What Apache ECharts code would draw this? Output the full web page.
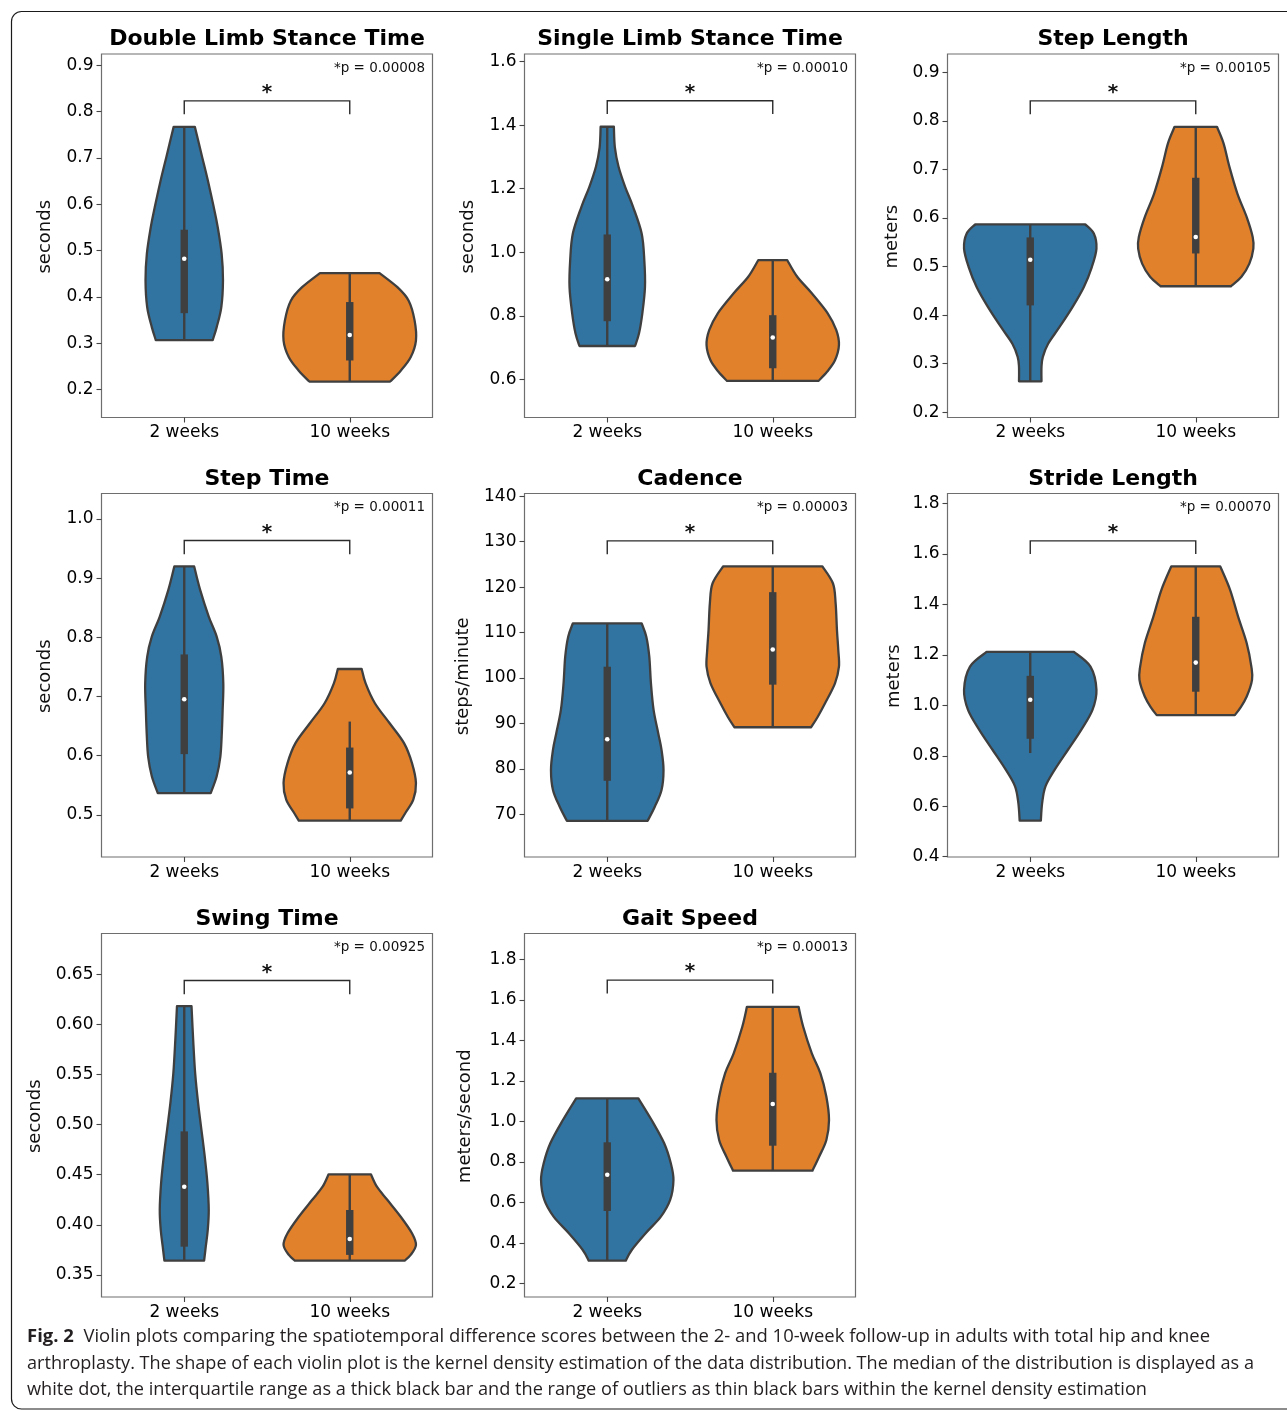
<!DOCTYPE html>
<html><head><meta charset="utf-8">
<script src="https://cdn.jsdelivr.net/npm/echarts@6/dist/echarts.min.js"></script>
<style>html,body{margin:0;padding:0;background:#fff}#c{width:1287px;height:1410px}</style>
</head><body><div id="c"></div><script>
// ---------------- DATA ----------------
const categories = ['2 weeks', '10 weeks'];
const titles = ['Double Limb Stance Time', 'Single Limb Stance Time', 'Step Length',
  'Step Time', 'Cadence', 'Stride Length', 'Swing Time', 'Gait Speed'];
const yNames = ['seconds', 'seconds', 'meters', 'seconds', 'steps/minute', 'meters', 'seconds', 'meters/second'];
const pTexts = ['*p = 0.00008', '*p = 0.00010', '*p = 0.00105', '*p = 0.00011',
  '*p = 0.00003', '*p = 0.00070', '*p = 0.00925', '*p = 0.00013'];
const yMin = [0.14, 0.48, 0.189, 0.4286, 60.64, 0.399, 0.328, 0.134];
const yMax = [0.924, 1.624, 0.938, 1.043, 140.6, 1.8396, 0.6906, 1.928];
const yTicks = [
  ['0.2', '0.3', '0.4', '0.5', '0.6', '0.7', '0.8', '0.9'],
  ['0.6', '0.8', '1.0', '1.2', '1.4', '1.6'],
  ['0.2', '0.3', '0.4', '0.5', '0.6', '0.7', '0.8', '0.9'],
  ['0.5', '0.6', '0.7', '0.8', '0.9', '1.0'],
  ['70', '80', '90', '100', '110', '120', '130', '140'],
  ['0.4', '0.6', '0.8', '1.0', '1.2', '1.4', '1.6', '1.8'],
  ['0.35', '0.40', '0.45', '0.50', '0.55', '0.60', '0.65'],
  ['0.2', '0.4', '0.6', '0.8', '1.0', '1.2', '1.4', '1.6', '1.8']
];
// violin outlines: [value, relative density half-width (1 = widest violin)], top to bottom
const violin2w = [
  [[0.767,0.16],[0.702,0.27],[0.652,0.355],[0.594,0.445],[0.551,0.505],[0.493,0.565],[0.436,0.585],[0.378,0.56],[0.335,0.49],[0.307,0.43]],
  [[1.395,0.10],[1.33,0.115],[1.27,0.17],[1.206,0.27],[1.143,0.39],[1.059,0.52],[0.975,0.56],[0.891,0.57],[0.808,0.53],[0.745,0.48],[0.705,0.42]],
  [[0.587,0.83],[0.568,0.96],[0.537,1.00],[0.499,0.93],[0.458,0.81],[0.417,0.64],[0.375,0.44],[0.341,0.27],[0.314,0.19],[0.293,0.17],[0.2635,0.17]],
  [[0.9197,0.15],[0.880,0.24],[0.835,0.37],[0.801,0.49],[0.767,0.56],[0.722,0.59],[0.677,0.58],[0.632,0.565],[0.598,0.545],[0.565,0.49],[0.5367,0.40]],
  [[112.03,0.52],[109.09,0.59],[104.7,0.635],[98.85,0.66],[92.99,0.70],[87.87,0.77],[84.2,0.82],[79.8,0.85],[75.4,0.82],[71.75,0.72],[68.6,0.61]],
  [[1.2118,0.66],[1.1537,0.91],[1.0615,1.00],[0.9823,0.94],[0.903,0.77],[0.824,0.57],[0.745,0.37],[0.679,0.23],[0.6133,0.18],[0.5433,0.16]],
  [[0.6181,0.11],[0.5842,0.135],[0.551,0.165],[0.5211,0.21],[0.4945,0.26],[0.4679,0.31],[0.4414,0.35],[0.4148,0.37],[0.3948,0.355],[0.3782,0.325],[0.3643,0.30]],
  [[1.1144,0.47],[1.0074,0.67],[0.8925,0.86],[0.794,0.96],[0.7115,1.00],[0.6128,0.95],[0.5305,0.81],[0.4486,0.58],[0.3662,0.37],[0.3135,0.28]]
];
const violin10w = [
  [[0.4515,0.45],[0.421,0.72],[0.392,0.89],[0.349,0.98],[0.306,1.00],[0.270,0.92],[0.241,0.77],[0.2175,0.61]],
  [[0.975,0.22],[0.923,0.37],[0.871,0.59],[0.808,0.83],[0.755,0.96],[0.708,1.00],[0.660,0.94],[0.624,0.82],[0.595,0.69]],
  [[0.788,0.32],[0.754,0.42],[0.705,0.51],[0.650,0.63],[0.602,0.77],[0.561,0.86],[0.537,0.87],[0.506,0.81],[0.479,0.69],[0.4594,0.53]],
  [[0.7464,0.18],[0.722,0.24],[0.6885,0.38],[0.655,0.60],[0.621,0.82],[0.5873,0.94],[0.5536,1.00],[0.5254,0.96],[0.503,0.84],[0.49,0.77]],
  [[124.56,0.75],[120.8,0.91],[116.43,0.95],[110.56,0.97],[106.17,0.99],[102.5,1.00],[98.85,0.94],[94.45,0.79],[91.5,0.68],[89.18,0.58]],
  [[1.5508,0.37],[1.457,0.52],[1.3514,0.64],[1.2462,0.77],[1.1537,0.84],[1.101,0.85],[1.035,0.77],[0.989,0.67],[0.9614,0.59]],
  [[0.4504,0.32],[0.438,0.41],[0.4247,0.57],[0.4081,0.77],[0.3916,0.94],[0.3799,1.00],[0.37,0.92],[0.3643,0.83]],
  [[1.5662,0.39],[1.4676,0.46],[1.3364,0.59],[1.2377,0.72],[1.1223,0.81],[1.0074,0.85],[0.9088,0.81],[0.8264,0.70],[0.7574,0.60]]
];
// inner box: [whisker low, q1, median, q3, whisker high]
const box2w = [
  [0.307, 0.365, 0.4825, 0.545, 0.767],
  [0.705, 0.783, 0.915, 1.056, 1.395],
  [0.2635, 0.420, 0.514, 0.560, 0.587],
  [0.5367, 0.6025, 0.6953, 0.771, 0.9197],
  [68.6, 77.4, 86.55, 102.5, 112.03],
  [0.811, 0.8676, 1.022, 1.117, 1.2118],
  [0.3643, 0.3782, 0.438, 0.4932, 0.6181],
  [0.3135, 0.5585, 0.7376, 0.8974, 1.1144]
];
const box10w = [
  [0.2175, 0.263, 0.318, 0.389, 0.4515],
  [0.595, 0.635, 0.732, 0.802, 0.975],
  [0.4594, 0.527, 0.561, 0.683, 0.788],
  [0.49, 0.5107, 0.5714, 0.6136, 0.6575],
  [89.18, 98.55, 106.3, 118.9, 124.56],
  [0.9614, 1.054, 1.1695, 1.351, 1.5508],
  [0.3643, 0.370, 0.3859, 0.4148, 0.4504],
  [0.7574, 0.8807, 1.0863, 1.2407, 1.5662]
];
// significance bracket: [bar level, leg end]
const bracketY = [[0.823,0.794],[1.477,1.435],[0.8414,0.814],[0.9636,0.9404],[130.18,127.26],[1.652,1.5994],[0.6437,0.6301],[1.698,1.632]];
const captionLines = [
  'Violin plots comparing the spatiotemporal difference scores between the 2- and 10-week follow-up in adults with total hip and knee',
  'arthroplasty. The shape of each violin plot is the kernel density estimation of the data distribution. The median of the distribution is displayed as a',
  'white dot, the interquartile range as a thick black bar and the range of outliers as thin black bars within the kernel density estimation'
];
const captionLabel = 'Fig. 2';

// ---------------- LAYOUT / STYLE ----------------
const COLS = [101.5, 524.5, 947.5], ROWS = [54, 493.5, 933.5], GW = 331, GH = 363.5;
const yNameOff = [56.5, 56.5, 55.5, 56.5, 61.5, 53.5, 66.5, 59.5];
const FILL = ['#3274a1', '#e1812c'], EDGE = '#3f3f3f';
const FONT = '"DejaVu Sans", Verdana, sans-serif';
const CAP_FONT = '"Open Sans", "Noto Sans", sans-serif';

function gl(i) { return { left: COLS[i % 3], top: ROWS[Math.floor(i / 3)] }; }

function smoothSeg(pts) {
  let d = '';
  for (let j = 0; j < pts.length - 1; j++) {
    const p0 = pts[j - 1] || pts[j], p1 = pts[j], p2 = pts[j + 1], p3 = pts[j + 2] || pts[j + 1];
    const c1 = [p1[0] + (p2[0] - p0[0]) / 6, p1[1] + (p2[1] - p0[1]) / 6];
    const c2 = [p2[0] - (p3[0] - p1[0]) / 6, p2[1] - (p3[1] - p1[1]) / 6];
    d += ' C' + c1[0].toFixed(2) + ',' + c1[1].toFixed(2) + ' ' + c2[0].toFixed(2) + ',' + c2[1].toFixed(2) + ' ' + p2[0].toFixed(2) + ',' + p2[1].toFixed(2);
  }
  return d;
}

function txtStyle(o) {
  const s = Object.assign({}, o);
  if (o.align) s.textAlign = o.align;
  if (o.verticalAlign) s.textVerticalAlign = o.verticalAlign;
  return s;
}

const grids = [], xAxes = [], yAxes = [], series = [], graphics = [];
for (let i = 0; i < 8; i++) {
  const g = gl(i);
  grids.push({ left: g.left, top: g.top, width: GW, height: GH, show: true, borderColor: '#6e6e6e', borderWidth: 1.2, backgroundColor: 'transparent' });
  xAxes.push({
    type: 'category', gridIndex: i, data: categories,
    axisLine: { show: false }, splitLine: { show: false },
    axisTick: { show: true, alignWithLabel: true, length: 5, lineStyle: { color: '#444', width: 1.1 } },
    axisLabel: { fontSize: 17, fontFamily: FONT, color: '#000', margin: 7 }
  });
  const tv = yTicks[i].map(Number);
  yAxes.push({
    type: 'value', gridIndex: i, min: yMin[i], max: yMax[i],
    axisLine: { show: false }, splitLine: { show: false },
    axisTick: { show: true, length: 5, customValues: tv, lineStyle: { color: '#444', width: 1.1 } },
    axisLabel: {
      customValues: tv, fontSize: 17, fontFamily: FONT, color: '#000', margin: 8,
      formatter: (v) => { const k = tv.findIndex(t => Math.abs(t - v) < 1e-9); return k >= 0 ? yTicks[i][k] : ''; }
    }
  });
  series.push({
    type: 'custom', xAxisIndex: i, yAxisIndex: i, clip: false, z: 2,
    data: [[0, box2w[i][2]], [1, box10w[i][2]]], encode: { x: 0, y: 1 },
    renderItem: (params, api) => {
      const k = params.dataIndex;
      const prof = k === 0 ? violin2w[i] : violin10w[i];
      const bx = k === 0 ? box2w[i] : box10w[i];
      const band = api.size([1, 0])[0];
      const maxHW = band * 0.4;
      const cx = api.coord([k, bx[2]])[0];
      const right = prof.map(p => [cx + p[1] * maxHW, api.coord([k, p[0]])[1]]);
      const left = prof.map(p => [cx - p[1] * maxHW, api.coord([k, p[0]])[1]]).reverse();
      let d = 'M' + left[left.length - 1][0].toFixed(2) + ',' + left[left.length - 1][1].toFixed(2);
      d += ' L' + right[0][0].toFixed(2) + ',' + right[0][1].toFixed(2);
      d += smoothSeg(right);
      d += ' L' + left[0][0].toFixed(2) + ',' + left[0][1].toFixed(2);
      d += smoothSeg(left);
      d += ' Z';
      const yLo = api.coord([k, bx[0]])[1], yQ1 = api.coord([k, bx[1]])[1], yMed = api.coord([k, bx[2]])[1],
        yQ3 = api.coord([k, bx[3]])[1], yHi = api.coord([k, bx[4]])[1];
      return {
        type: 'group', children: [
          { type: 'path', shape: { pathData: d }, style: { fill: FILL[k], stroke: EDGE, lineWidth: 2.3, lineJoin: 'round' } },
          { type: 'line', shape: { x1: cx, y1: yLo, x2: cx, y2: yHi }, style: { stroke: EDGE, lineWidth: 2.4 } },
          { type: 'rect', shape: { x: cx - 3.7, y: yQ3, width: 7.4, height: yQ1 - yQ3 }, style: { fill: EDGE } },
          { type: 'circle', shape: { cx: cx, cy: yMed, r: 2.3 }, style: { fill: '#ffffff' } }
        ]
      };
    }
  });
  series.push({
    type: 'custom', xAxisIndex: i, yAxisIndex: i, clip: false, z: 3,
    data: [[0, bracketY[i][0]]], encode: { x: 0, y: 1 },
    renderItem: (params, api) => {
      const a = api.coord([0, bracketY[i][1]]), b = api.coord([0, bracketY[i][0]]),
        c = api.coord([1, bracketY[i][0]]), d = api.coord([1, bracketY[i][1]]);
      return {
        type: 'group', children: [
          { type: 'polyline', shape: { points: [a, b, c, d] }, style: { stroke: '#2b2b2b', lineWidth: 1.4, fill: 'none' } },
          { type: 'text', x: (b[0] + c[0]) / 2, y: b[1] - 8, style: txtStyle({ text: '*', font: 'bold 20px ' + FONT, fill: '#111', align: 'center', verticalAlign: 'middle' }) }
        ]
      };
    }
  });
  // title
  graphics.push({ type: 'text', x: g.left + GW / 2, y: g.top - 14.5, silent: true,
    style: txtStyle({ text: titles[i], font: 'bold 22px ' + FONT, fill: '#000', align: 'center', verticalAlign: 'middle' }) });
  // p value
  graphics.push({ type: 'text', x: g.left + GW - 7.5, y: g.top + 14.3, silent: true,
    style: txtStyle({ text: pTexts[i], font: '13.5px ' + FONT, fill: '#111', align: 'right', verticalAlign: 'middle' }) });
  // y name
  graphics.push({ type: 'text', x: g.left - yNameOff[i], y: g.top + GH / 2 + 1, rotation: Math.PI / 2, silent: true,
    style: txtStyle({ text: yNames[i], font: '18px ' + FONT, fill: '#111', align: 'center', verticalAlign: 'middle' }) });
}

// caption with horizontal fit
const cv = document.createElement('canvas').getContext('2d');
function tw(font, s) { cv.font = font; return cv.measureText(s).width; }
const CAP_SIZE = 18.5;
const capTargets = [1183, 1227, 1120];
const capBase = [1337, 1363.5, 1390];
captionLines.forEach((ln, j) => {
  let w, text, rich;
  if (j === 0) {
    w = tw('bold ' + CAP_SIZE + 'px ' + CAP_FONT, captionLabel) + tw(CAP_SIZE + 'px ' + CAP_FONT, '  ' + ln);
    text = '{b|' + captionLabel + '}  ' + ln;
    rich = { b: { fontWeight: 'bold', fontSize: CAP_SIZE, fontFamily: CAP_FONT, fill: '#231f20' } };
  } else {
    w = tw(CAP_SIZE + 'px ' + CAP_FONT, ln);
    text = ln;
  }
  const s = capTargets[j] / w;
  const st = txtStyle({ text: text, font: CAP_SIZE + 'px ' + CAP_FONT, fill: '#231f20', align: 'left', verticalAlign: 'middle' });
  if (rich) st.rich = rich;
  graphics.push({ type: 'text', x: 27, y: capBase[j], scaleX: s, silent: true, style: st });
});
// frame
graphics.push({ type: 'rect', silent: true, z: -10, shape: { x: 11.5, y: 11.5, width: 1400, height: 1397.5, r: 10 },
  style: { fill: 'none', stroke: '#1a1a1a', lineWidth: 1.2 } });

const chart = echarts.init(document.getElementById('c'), null, { renderer: 'canvas' });
chart.setOption({
  animation: false,
  backgroundColor: '#ffffff',
  grid: grids, xAxis: xAxes, yAxis: yAxes, series: series,
  graphic: { elements: graphics }
});
</script></body></html>
